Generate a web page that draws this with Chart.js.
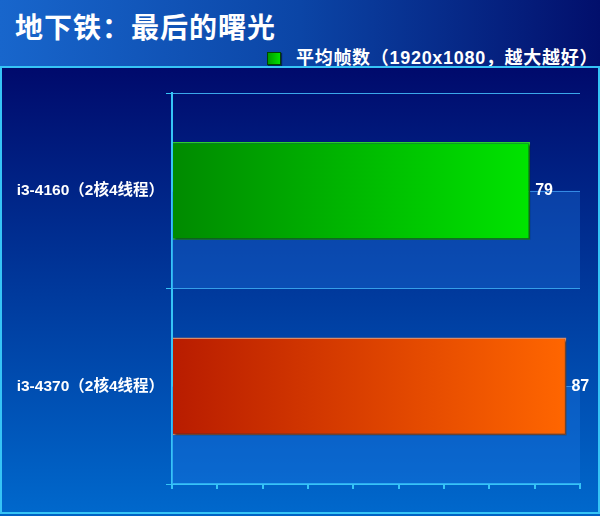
<!DOCTYPE html>
<html>
<head>
<meta charset="utf-8">
<script src="https://cdn.jsdelivr.net/npm/chart.js@4/dist/chart.umd.min.js"></script>
<style>
    body { margin: 0; background: #0062c4; overflow: hidden; }
    #box { position: relative; width: 600px; height: 516px; background: #0062c4; }
    #head {
        position: absolute; left: 0; top: 0; width: 600px; height: 66px;
        background: linear-gradient(to right, #1866cc 0%, #0b45a6 50%, #020f6c 100%);
    }
    #title {
        position: absolute; left: 15px; top: 6px; margin: 0;
        font: bold 28px "Noto Sans CJK SC", sans-serif; letter-spacing: 1px;
        color: #fff; white-space: nowrap;
    }
    #legend {
        position: absolute; left: 267px; top: 43px; white-space: nowrap; letter-spacing: 0.7px;
        font: bold 18px "Liberation Sans", "Noto Sans CJK SC", sans-serif; color: #fff;
    }
    #legend i {
        display: inline-block; width: 12px; height: 11px; vertical-align: -1px; margin-right: 15px;
        background: linear-gradient(to right, #009a00, #00e000); border: 1px solid #004400;
        box-shadow: 1px 1px 1px rgba(0,0,0,.5);
    }
    #plot {
        position: absolute; left: 0; top: 66px; width: 600px; height: 448px; box-sizing: border-box;
        border: 2px solid #36c4f6;
        background: linear-gradient(to bottom, #000a6c 0%, #00399c 50%, #0068cc 100%);
    }
    #chart1 { position: absolute; left: 0; top: 0; }
</style>
</head>
<body>
<div id="box">
    <div id="head">
        <h1 id="title">地下铁：最后的曙光</h1>
        <div id="legend"><i></i>平均帧数（1920x1080，越大越好）</div>
    </div>
    <div id="plot"><canvas id="chart1" width="596" height="444"></canvas></div>
</div>
<script>
// 数据
const labels = ["i3-4160（2核4线程）", "i3-4370（2核4线程）"];
const values = [79, 87];
const colorsLeft = ["#008a00", "#b81c00"];
const colorsRight = ["#00e400", "#ff6600"];
const borderColors = ["#2ccc2c", "#d88a66"];
const axisMax = 90;
const axisStep = 10;

const cyan = "#36c4f6";

function barFill(context) {
    const chart = context.chart;
    const i = context.dataIndex;
    if (!chart.chartArea) return colorsRight[i];
    const x0 = chart.scales.x.getPixelForValue(0);
    const x1 = chart.scales.x.getPixelForValue(values[i]);
    const g = chart.ctx.createLinearGradient(x0, 0, x1, 0);
    g.addColorStop(0, colorsLeft[i]);
    g.addColorStop(1, colorsRight[i]);
    return g;
}

// 막대 뒤의 밝은 띠
const bandPlugin = {
    id: "band",
    beforeDatasetsDraw(chart) {
        const { ctx, scales } = chart;
        const left = scales.x.getPixelForValue(0);
        const right = scales.x.getPixelForValue(axisMax);
        values.forEach((v, i) => {
            const y0 = scales.y.getPixelForValue(i);
            const y1 = scales.y.getPixelForValue(i + 0.5);
            ctx.save();
            ctx.fillStyle = "rgba(30, 120, 230, 0.34)";
            ctx.fillRect(left, y0, right - left, y1 - y0);
            ctx.strokeStyle = "rgba(70, 170, 255, 0.7)";
            ctx.lineWidth = 1;
            ctx.beginPath();
            ctx.moveTo(left, Math.round(y0) + 0.5);
            ctx.lineTo(right, Math.round(y0) + 0.5);
            ctx.stroke();
            ctx.restore();
        });
    },
    beforeDatasetDraw(chart) {
        const ctx = chart.ctx;
        ctx.save();
        ctx.shadowColor = "rgba(0, 0, 0, 0.55)";
        ctx.shadowOffsetX = 2;
        ctx.shadowOffsetY = 2;
        ctx.shadowBlur = 2;
    },
    afterDatasetDraw(chart) {
        chart.ctx.restore();
    },
    afterDatasetsDraw(chart) {
        const ctx = chart.ctx;
        const meta = chart.getDatasetMeta(0);
        ctx.save();
        ctx.fillStyle = "#ffffff";
        ctx.font = "bold 16px 'Liberation Sans', sans-serif";
        ctx.textAlign = "left";
        ctx.textBaseline = "middle";
        meta.data.forEach((bar, i) => {
            ctx.fillText(String(values[i]), bar.x + 5, bar.y);
        });
        ctx.restore();
    }
};

const chart = new Chart(document.getElementById("chart1"), {
    type: "bar",
    data: {
        labels: labels,
        datasets: [
            {
                label: "平均帧数（1920x1080，越大越好）",
                data: values,
                backgroundColor: barFill,
                borderColor: borderColors,
                borderWidth: 1.5,
                categoryPercentage: 1,
                barPercentage: 0.5
            }
        ]
    },
    options: {
        indexAxis: "y",
        responsive: false,
        animation: false,
        devicePixelRatio: 1,
        layout: { padding: { top: 25, right: 18, bottom: 0, left: 0 } },
        plugins: {
            legend: { display: false },
            tooltip: { enabled: false }
        },
        scales: {
            x: {
                min: 0,
                max: axisMax,
                ticks: { display: false, stepSize: axisStep },
                grid: { drawOnChartArea: false, color: cyan, lineWidth: 2, tickLength: 5 },
                border: { color: cyan, width: 2 },
                afterFit(scale) { scale.height = 28; }
            },
            y: {
                offset: true,
                grid: { offset: true, color: "#3aa6ea", lineWidth: 1, tickLength: 6, tickColor: cyan },
                border: { color: cyan, width: 2 },
                ticks: {
                    color: "#ffffff",
                    padding: 2,
                    font: { family: "'Liberation Sans', 'Noto Sans CJK SC', sans-serif", size: 15.5, weight: "bold" }
                },
                afterFit(scale) { scale.width = 170; }
            }
        }
    },
    plugins: [bandPlugin]
});
</script>
</body>
</html>
